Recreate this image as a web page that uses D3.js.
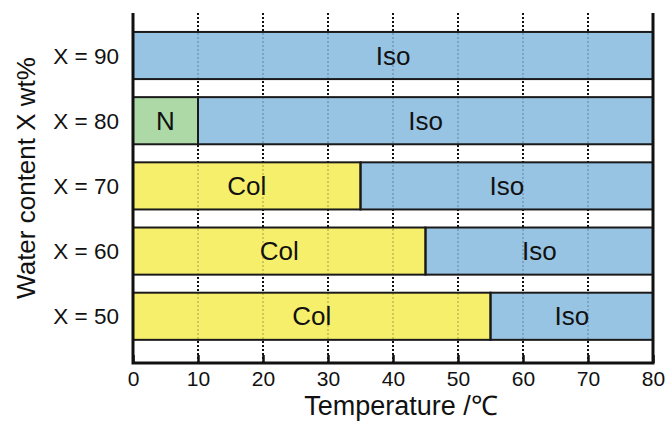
<!DOCTYPE html>
<html>
<head>
<meta charset="utf-8">
<script src="https://cdn.jsdelivr.net/npm/d3@7"></script>
<style>
  html, body { margin: 0; padding: 0; background: #fff; }
  svg { display: block; font-family: "Liberation Sans", Arial, sans-serif; }
</style>
</head>
<body>
<svg id="chart" width="666" height="421"></svg>
<script>
// Water content rows (top to bottom)
const categories = ["X = 90", "X = 80", "X = 70", "X = 60", "X = 50"];
// Phase boundaries per row (°C): end of N phase, end of Col phase; Iso runs to tempMax
const phaseN   = [0, 10, 0, 0, 0];
const phaseCol = [0, 0, 35, 45, 55];
const tempMax = 80;
const xTicks = [0, 10, 20, 30, 40, 50, 60, 70, 80];
const phaseColors = { N: "#acd9a6", Col: "#f6ef6c", Iso: "#98c4e4" };

const margin = { left: 133, right: 13, top: 13, bottom: 58 };
const W = 666, H = 421;
const svg = d3.select("#chart");

const x = d3.scaleLinear().domain([0, tempMax]).range([margin.left, W - margin.right]);
const y = d3.scaleBand().domain(categories)
  .range([margin.top, H - margin.bottom])
  .paddingInner(0.277).paddingOuter(0.323).align(0.45);

const y0 = margin.top, y1 = H - margin.bottom;

// Build segments
const segments = [];
categories.forEach((c, i) => {
  let start = 0;
  if (phaseN[i] > 0) { segments.push({ c, phase: "N", a: start, b: phaseN[i] }); start = phaseN[i]; }
  if (phaseCol[i] > 0) { segments.push({ c, phase: "Col", a: start, b: phaseCol[i] }); start = phaseCol[i]; }
  segments.push({ c, phase: "Iso", a: start, b: tempMax });
});

const gridVals = xTicks.filter(v => v > 0 && v < tempMax);

// Dotted grid (behind bars)
svg.append("g").selectAll("line").data(gridVals).join("line")
  .attr("x1", d => x(d)).attr("x2", d => x(d))
  .attr("y1", y0).attr("y2", y1)
  .attr("stroke", "#111").attr("stroke-width", 2)
  .attr("stroke-dasharray", "2,2");

// Bars
svg.append("g").selectAll("rect").data(segments).join("rect")
  .attr("x", d => x(d.a)).attr("width", d => x(d.b) - x(d.a))
  .attr("y", d => y(d.c)).attr("height", y.bandwidth())
  .attr("fill", d => phaseColors[d.phase]);

// Faint grid visible through bars
svg.append("g").selectAll("line").data(gridVals).join("line")
  .attr("x1", d => x(d)).attr("x2", d => x(d))
  .attr("y1", y0).attr("y2", y1)
  .attr("stroke", "#111").attr("stroke-opacity", 0.18).attr("stroke-width", 2)
  .attr("stroke-dasharray", "2,2");

// Bar outlines
svg.append("g").selectAll("rect").data(segments).join("rect")
  .attr("x", d => x(d.a)).attr("width", d => x(d.b) - x(d.a))
  .attr("y", d => y(d.c)).attr("height", y.bandwidth())
  .attr("fill", "none").attr("stroke", "#1a1a1a").attr("stroke-width", 2);

// Phase labels
svg.append("g").selectAll("text").data(segments).join("text")
  .attr("x", d => (x(d.a) + x(d.b)) / 2)
  .attr("y", d => y(d.c) + y.bandwidth() / 2 + 9)
  .attr("text-anchor", "middle")
  .attr("font-size", 26).attr("fill", "#111")
  .text(d => d.phase);

// Bottom axis with inward ticks
const xAxis = d3.axisBottom(x).tickValues(xTicks).tickSizeInner(-8).tickSizeOuter(0).tickPadding(0);
const gx = svg.append("g").attr("transform", `translate(0,${y1})`).call(xAxis);
gx.select(".domain").remove();
gx.selectAll(".tick line").attr("stroke", "#111").attr("stroke-width", 2.5);
gx.selectAll(".tick text").attr("font-size", 21).attr("fill", "#111")
  .attr("font-family", "Liberation Sans, Arial, sans-serif").attr("y", 23).attr("dy", 0);

// Frame: left, right, bottom
svg.append("path")
  .attr("d", `M${x(0)},${y0}V${y1}H${x(tempMax)}V${y0}`)
  .attr("fill", "none").attr("stroke", "#111").attr("stroke-width", 3);

// Row labels
svg.append("g").selectAll("text").data(categories).join("text")
  .attr("x", margin.left - 14)
  .attr("y", d => y(d) + y.bandwidth() / 2 + 8)
  .attr("text-anchor", "end").attr("font-size", 22.5).attr("fill", "#111")
  .text(d => d);

// Axis titles
svg.append("text")
  .attr("x", 401).attr("y", 415)
  .attr("text-anchor", "middle").attr("font-size", 27).attr("fill", "#111")
  .text("Temperature /℃");

svg.append("text")
  .attr("transform", "translate(35,178) rotate(-90)")
  .attr("text-anchor", "middle").attr("font-size", 26).attr("fill", "#111")
  .text("Water content X wt%");
</script>
</body>
</html>
